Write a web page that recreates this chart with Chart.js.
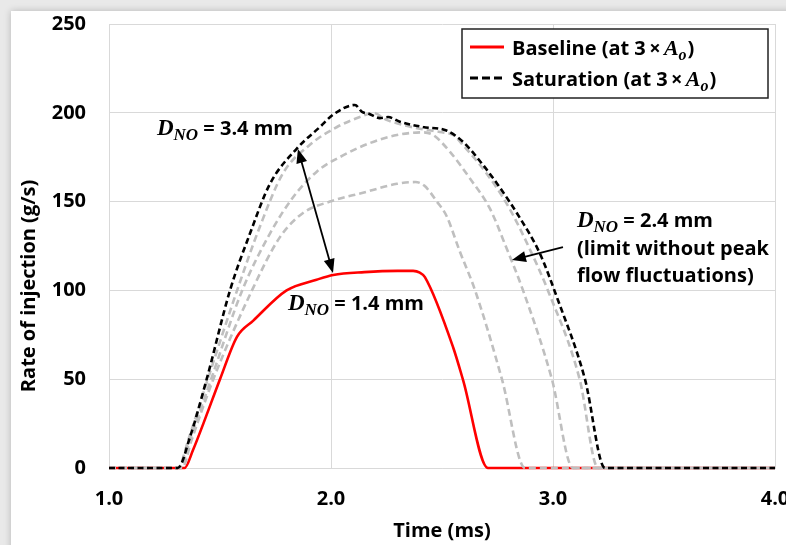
<!DOCTYPE html>
<html>
<head>
<meta charset="utf-8">
<script src="https://cdn.jsdelivr.net/npm/chart.js@4.4.1/dist/chart.umd.min.js"></script>
<style>
  html, body { margin: 0; padding: 0; overflow: hidden; background: #e9e9e9; }
  #panel { position: absolute; left: 11px; top: 11px; width: 800px; height: 560px; background: #fff; box-shadow: 0 0 7px rgba(0,0,0,0.22); }
  #wrap { position: absolute; left: 0; top: 0; width: 800px; height: 545px; }
</style>
</head>
<body>
<div id="panel"></div>
<div id="wrap"><canvas id="chart" width="800" height="545"></canvas></div>
<script>
// ---- data (time in ms, rate in g/s) ----
const baseT = [1.0, 1.34, 1.378, 1.425, 1.50, 1.577, 1.65, 1.80, 1.935, 2.01, 2.15, 2.30, 2.37, 2.40, 2.423, 2.55, 2.595, 2.707, 4.0];
const baseV = [0, 0, 10, 25, 50, 74, 83, 100, 106, 108.7, 110.3, 111, 111, 110, 107.5, 68, 49.5, 0, 0];

const satT = [1.0, 1.31, 1.365, 1.44, 1.545, 1.635, 1.725, 1.847, 1.95, 2.01, 2.108, 2.14, 2.17, 2.22, 2.257, 2.31, 2.414, 2.52, 2.595, 2.685, 2.76, 2.85, 2.94, 3.018, 3.144, 3.234, 4.0];
const satV = [0, 0, 17.5, 50, 100, 132, 160, 180, 192, 199, 204.4, 200.5, 199.5, 197, 197.6, 195, 192, 190, 183.6, 170.6, 158, 141, 121, 96, 50, 0, 0];

// intermediate nozzle diameters (grey dashed)
const g1T = [1.0, 1.33, 1.37, 1.47, 1.644, 1.77, 1.874, 1.995, 2.144, 2.297, 2.38, 2.42, 2.477, 2.52, 2.58, 2.649, 2.77, 2.874, 4.0];
const g1V = [0, 0, 15, 50, 100, 130, 143.6, 150, 155, 160, 161, 159, 150, 142, 122, 100, 50, 0, 0];

const g2T = [1.0, 1.32, 1.365, 1.46, 1.60, 1.725, 1.83, 1.937, 2.054, 2.176, 2.297, 2.414, 2.46, 2.536, 2.626, 2.716, 2.79, 2.865, 2.995, 3.09, 4.0];
const g2V = [0, 0, 16, 50, 100, 132, 152.6, 167, 176, 183, 187.5, 189, 187.5, 178, 163, 146, 124, 100, 50, 0, 0];

const g3T = [1.0, 1.31, 1.36, 1.445, 1.577, 1.68, 1.784, 1.905, 2.027, 2.16, 2.19, 2.25, 2.30, 2.40, 2.50, 2.55, 2.60, 2.70, 2.80, 2.90, 2.977, 3.12, 3.203, 4.0];
const g3V = [0, 0, 17, 50, 100, 136, 166, 182, 192, 199, 200, 196, 194, 191, 189, 187.5, 181, 166, 147, 122, 100, 50, 0, 0];

const xTicks = [1, 2, 3, 4];
const yTicks = [0, 50, 100, 150, 200, 250];

const pts = (t, v) => t.map((x, i) => ({ x: x, y: v[i] }));

const sans = 'Open Sans';
const serif = 'Liberation Serif';
const grey = '#bfbfbf';

// D_NO = ... label, drawn at data coords
function drawDno(ctx, x, y, rest) {
    ctx.fillStyle = '#000';
    ctx.textBaseline = 'alphabetic';
    ctx.textAlign = 'left';
    ctx.font = 'italic bold 23px "' + serif + '"';
    ctx.fillText('D', x, y);
    x += ctx.measureText('D').width;
    ctx.font = 'italic bold 17px "' + serif + '"';
    ctx.fillText('NO', x, y + 5);
    x += ctx.measureText('NO').width;
    ctx.font = 'bold 20px "' + sans + '"';
    ctx.fillText(rest, x, y);
}

function arrowHead(ctx, x0, y0, x1, y1) {
    const a = Math.atan2(y1 - y0, x1 - x0);
    const len = 14, half = 5.5;
    ctx.beginPath();
    ctx.moveTo(x1, y1);
    ctx.lineTo(x1 - len * Math.cos(a) + half * Math.sin(a), y1 - len * Math.sin(a) - half * Math.cos(a));
    ctx.lineTo(x1 - len * Math.cos(a) - half * Math.sin(a), y1 - len * Math.sin(a) + half * Math.cos(a));
    ctx.closePath();
    ctx.fill();
}

function arrow(ctx, x0, y0, x1, y1, both) {
    ctx.strokeStyle = '#000';
    ctx.fillStyle = '#000';
    ctx.lineWidth = 1.8;
    ctx.setLineDash([]);
    const a = Math.atan2(y1 - y0, x1 - x0);
    ctx.beginPath();
    ctx.moveTo(x0 + (both ? 8 * Math.cos(a) : 0), y0 + (both ? 8 * Math.sin(a) : 0));
    ctx.lineTo(x1 - 8 * Math.cos(a), y1 - 8 * Math.sin(a));
    ctx.stroke();
    arrowHead(ctx, x0, y0, x1, y1);
    if (both) arrowHead(ctx, x1, y1, x0, y0);
}

const extras = {
    id: 'extras',
    afterDatasetsDraw(chart) {
        const ctx = chart.ctx;
        const xs = chart.scales.x, ys = chart.scales.y;
        const X = v => xs.getPixelForValue(v), Y = v => ys.getPixelForValue(v);
        const area = chart.chartArea;
        ctx.save();

        // y axis title
        ctx.save();
        ctx.translate(29, 286);
        ctx.rotate(-Math.PI / 2);
        ctx.font = 'bold 20px "' + sans + '"';
        ctx.fillStyle = '#000';
        ctx.textAlign = 'center';
        ctx.textBaseline = 'middle';
        ctx.fillText('Rate of injection (g/s)', 0, 0);
        ctx.restore();

        // annotations
        drawDno(ctx, X(1.216), Y(187.5), ' = 3.4 mm');
        drawDno(ctx, X(1.806), Y(89), ' = 1.4 mm');
        drawDno(ctx, X(3.108), Y(135.7), ' = 2.4 mm');
        ctx.font = 'bold 20px "' + sans + '"';
        ctx.fillText('(limit without peak', X(3.108), Y(119.9));
        ctx.fillText('flow fluctuations)', X(3.108), Y(104.7));

        arrow(ctx, X(1.851), Y(179.6), X(2.009), Y(109.8), true);
        arrow(ctx, X(3.045), Y(124.4), X(2.815), Y(117.1), false);

        // legend box
        const bx = area.right - 313, by = area.top + 5, bw = 306, bh = 69;
        ctx.fillStyle = '#fff';
        ctx.fillRect(bx, by, bw, bh);
        ctx.strokeStyle = '#222';
        ctx.lineWidth = 1.5;
        ctx.strokeRect(bx, by, bw, bh);

        const rows = [
            { label: 'Baseline (at 3\u2009\u00d7\u2009', color: '#ff0000', dash: [], cy: by + 18 },
            { label: 'Saturation (at 3\u2009\u00d7\u2009', color: '#000', dash: [8, 4], cy: by + 49 }
        ];
        rows.forEach(r => {
            ctx.strokeStyle = r.color;
            ctx.lineWidth = 3;
            ctx.setLineDash(r.dash);
            ctx.beginPath();
            ctx.moveTo(bx + 8, r.cy);
            ctx.lineTo(bx + 42, r.cy);
            ctx.stroke();
            ctx.setLineDash([]);
            let tx = bx + 50;
            const base = r.cy + 8;
            ctx.fillStyle = '#000';
            ctx.font = 'bold 20px "' + sans + '"';
            ctx.fillText(r.label, tx, base);
            tx += ctx.measureText(r.label).width;
            ctx.font = 'italic bold 22px "' + serif + '"';
            ctx.fillText('A', tx, base);
            tx += ctx.measureText('A').width;
            ctx.font = 'italic bold 16px "' + serif + '"';
            ctx.fillText('o', tx, base + 5);
            tx += ctx.measureText('o').width + 1;
            ctx.font = 'bold 20px "' + sans + '"';
            ctx.fillText(')', tx, base);
        });
        ctx.restore();
    }
};

const line = (label, t, v, color, width, dash, order) => ({
    label: label,
    data: pts(t, v),
    borderColor: color,
    backgroundColor: color,
    borderWidth: width,
    borderDash: dash,
    pointRadius: 0,
    cubicInterpolationMode: 'monotone',
    clip: 6,
    order: order
});

new Chart(document.getElementById('chart'), {
    type: 'line',
    data: {
        datasets: [
            line('Baseline (at 3 × Ao)', baseT, baseV, '#ff0000', 2.6, [], 2),
            line('DNO 1', g1T, g1V, grey, 2.6, [7, 4], 1),
            line('DNO 2', g2T, g2V, grey, 2.6, [7, 4], 1),
            line('DNO 3', g3T, g3V, grey, 2.6, [7, 4], 1),
            line('Saturation (at 3 × Ao)', satT, satV, '#000', 2.6, [6, 3.5], 0)
        ]
    },
    options: {
        responsive: false,
        animation: false,
        layout: { padding: { top: 24, right: 25, left: 0, bottom: 0 } },
        plugins: { legend: { display: false }, tooltip: { enabled: false } },
        scales: {
            x: {
                type: 'linear', min: 1, max: 4,
                afterBuildTicks: s => { s.ticks = xTicks.map(v => ({ value: v })); },
                afterFit: s => { s.height = 77; s.paddingLeft = 0; s.paddingRight = 0; },
                grid: { color: '#d9d9d9', drawTicks: false },
                border: { color: '#d9d9d9' },
                ticks: { padding: 19, color: '#000', font: { family: sans, size: 20, weight: 'bold' }, callback: v => v.toFixed(1), maxRotation: 0 },
                title: { display: true, text: 'Time (ms)', color: '#000', font: { family: sans, size: 20, weight: 'bold' }, padding: { top: 0, bottom: 2 } }
            },
            y: {
                min: 0, max: 250,
                afterBuildTicks: s => { s.ticks = yTicks.map(v => ({ value: v })); },
                afterFit: s => { s.width = 109; s.paddingTop = 0; s.paddingBottom = 0; },
                grid: { color: '#d9d9d9', drawTicks: false },
                border: { color: '#d9d9d9' },
                ticks: { padding: 23, color: '#000', font: { family: sans, size: 20, weight: 'bold' } }
            }
        }
    },
    plugins: [extras]
});
</script>
</body>
</html>
